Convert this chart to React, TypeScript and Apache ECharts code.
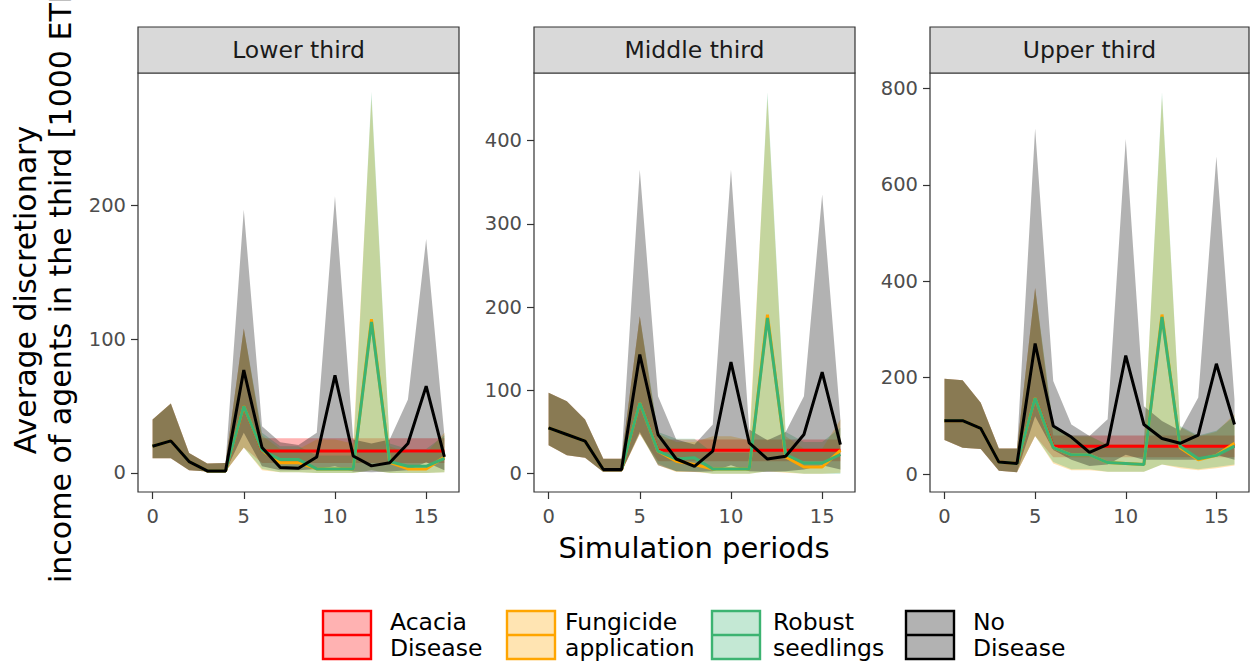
import React, { useEffect, useRef } from "react";
import * as echarts from "echarts";

const periods = [0, 1, 2, 3, 4, 5, 6, 7, 8, 9, 10, 11, 12, 13, 14, 15, 16];
const panelTitles = ["Lower third", "Middle third", "Upper third"];
const scenarioLabels = ["Acacia\nDisease", "Fungicide\napplication", "Robust\nseedlings", "No\nDisease"];
const scenarioColors = ["#FF0000", "#FFA500", "#3CB371", "#000000"];
const ribbonFills = ["rgba(255,0,0,0.3)", "rgba(255,165,0,0.3)", "rgba(60,179,113,0.3)", "rgba(0,0,0,0.3)"];
const xTicks = [0, 5, 10, 15];
const yTicksLower = [0, 100, 200];
const yTicksMiddle = [0, 100, 200, 300, 400];
const yTicksUpper = [0, 200, 400, 600, 800];

// Lower third: mean, lower, upper for each scenario (Acacia, Fungicide, Robust, No Disease)
const lowerAcaciaMean = [20, 24, 8.5, 1.5, 1.5, 50, 16.5, 16.5, 16.5, 16.5, 16.5, 16.5, 16.5, 16.5, 16.5, 16.5, 16.5];
const lowerAcaciaLo = [11, 11, 2, 1, 1, 19, 7.5, 7.5, 7.5, 7.5, 7.5, 7.5, 7.5, 7.5, 7.5, 7.5, 7.5];
const lowerAcaciaHi = [40, 52, 15, 7, 7.5, 108, 26, 26, 26, 26, 26, 26, 26, 26, 26, 26, 26];
const lowerFungMean = [20, 24, 8.5, 1.5, 1.5, 50, 17, 7.7, 7.7, 3, 3, 3, 115, 8, 3, 3, 12];
const lowerFungLo = [11, 11, 2, 1, 1, 19, 2, 0.5, 0.5, 0, 0, 0, 2, 0, 0, 0, 0.5];
const lowerFungHi = [40, 52, 15, 7, 7.5, 108, 28, 18, 18, 25, 25, 22, 280, 20, 15, 15, 30];
const lowerRobMean = [20, 24, 8.5, 1.5, 1.5, 50, 17, 10, 10, 3, 3, 3, 113, 8.5, 5, 5, 11];
const lowerRobLo = [11, 11, 2, 1, 1, 19, 3, 0.5, 0.5, 0, 0, 0, 2, 0, 0, 0, 0.5];
const lowerRobHi = [40, 52, 15, 7, 7.5, 108, 30, 20, 20, 13, 13, 13, 285, 22, 18, 18, 28];
const lowerNoneMean = [20, 24, 8.5, 1.5, 1.5, 77, 19, 4, 3.5, 12, 73, 12.7, 5.3, 7.7, 22, 65, 12];
const lowerNoneLo = [11, 11, 2, 1, 1, 30, 5, 2, 2, 3, 5, 1, 0.5, 1, 2, 8, 2];
const lowerNoneHi = [40, 52, 15, 7, 7.5, 197, 35, 23, 21, 30, 207, 25, 22, 25, 55, 175, 28];

// Middle third
const middleAcaciaMean = [55, 47, 39, 5, 5, 85, 28, 28, 28, 28, 28, 28, 28, 28, 28, 28, 28];
const middleAcaciaLo = [34, 22, 19, 2, 2, 48, 15, 15, 15, 15, 15, 15, 15, 15, 15, 15, 15];
const middleAcaciaHi = [97, 87, 65, 18, 18, 189, 41, 41, 41, 41, 41, 41, 41, 41, 41, 41, 41];
const middleFungMean = [55, 47, 39, 5, 5, 85, 27, 15, 11, 5.6, 5.6, 5.6, 191, 20, 8, 8, 28];
const middleFungLo = [34, 22, 19, 2, 2, 48, 10, 2, 2, 0, 0, 0, 3, 1, 0, 0, 1];
const middleFungHi = [97, 87, 65, 18, 18, 189, 48, 38, 38, 45, 45, 40, 450, 45, 30, 30, 65];
const middleRobMean = [55, 47, 39, 5, 5, 85, 27, 17.6, 19, 5.6, 5.6, 5.6, 187, 23, 12.8, 12.8, 23];
const middleRobLo = [34, 22, 19, 2, 2, 48, 12, 3, 3, 0, 0, 0, 3, 2, 0, 0, 0];
const middleRobHi = [97, 87, 65, 18, 18, 189, 50, 42, 42, 25, 25, 25, 458, 50, 38, 38, 55];
const middleNoneMean = [55, 47, 39, 5, 5, 143, 47, 17.6, 8.8, 27, 134, 37, 17.6, 21, 47, 122, 35];
const middleNoneLo = [34, 22, 19, 2, 2, 50, 10, 3, 2, 3, 10, 3, 2, 3, 5, 10, 5];
const middleNoneHi = [97, 87, 65, 18, 18, 365, 93, 41, 35, 59, 365, 53, 40, 50, 93, 335, 65];

// Upper third
const upperAcaciaMean = [111, 111, 95, 25, 22, 158, 58, 58, 58, 58, 58, 58, 58, 58, 58, 58, 58];
const upperAcaciaLo = [71, 55, 52, 7, 4, 79, 35, 35, 35, 35, 35, 35, 35, 35, 35, 35, 35];
const upperAcaciaHi = [198, 195, 148, 53, 53, 386, 80, 80, 80, 80, 80, 80, 80, 80, 80, 80, 80];
const upperFungMean = [111, 111, 95, 25, 22, 158, 55, 40, 40, 24, 22, 20, 331, 55, 30, 39, 64];
const upperFungLo = [71, 55, 52, 7, 4, 79, 22, 8, 8, 5, 5, 5, 20, 12, 8, 12, 18];
const upperFungHi = [198, 195, 148, 53, 53, 386, 98, 78, 78, 62, 62, 62, 780, 98, 78, 88, 125];
const upperRobMean = [111, 111, 95, 25, 22, 158, 55, 40, 40, 24, 22, 20, 326, 58, 32, 39, 58];
const upperRobLo = [71, 55, 52, 7, 4, 79, 25, 10, 10, 5, 5, 5, 20, 15, 10, 15, 20];
const upperRobHi = [198, 195, 148, 53, 53, 386, 100, 80, 80, 60, 60, 60, 792, 100, 80, 90, 120];
const upperNoneMean = [111, 111, 95, 25, 22, 271, 100, 77, 45, 62, 246, 103, 74, 64, 81, 229, 103];
const upperNoneLo = [71, 55, 52, 7, 4, 120, 50, 30, 17, 20, 40, 30, 30, 30, 30, 40, 30];
const upperNoneHi = [198, 195, 148, 53, 53, 717, 193, 103, 79, 114, 695, 141, 110, 90, 159, 659, 155];

const FONT = "DejaVu Sans";

const panels = [
  {
    left: 138, width: 321, yMin: -14.25, yMax: 299.25, yTicks: yTicksLower,
    means: [lowerAcaciaMean, lowerFungMean, lowerRobMean, lowerNoneMean],
    los: [lowerAcaciaLo, lowerFungLo, lowerRobLo, lowerNoneLo],
    his: [lowerAcaciaHi, lowerFungHi, lowerRobHi, lowerNoneHi],
  },
  {
    left: 534, width: 321, yMin: -22, yMax: 481, yTicks: yTicksMiddle,
    means: [middleAcaciaMean, middleFungMean, middleRobMean, middleNoneMean],
    los: [middleAcaciaLo, middleFungLo, middleRobLo, middleNoneLo],
    his: [middleAcaciaHi, middleFungHi, middleRobHi, middleNoneHi],
  },
  {
    left: 930, width: 319, yMin: -37, yMax: 832, yTicks: yTicksUpper,
    means: [upperAcaciaMean, upperFungMean, upperRobMean, upperNoneMean],
    los: [upperAcaciaLo, upperFungLo, upperRobLo, upperNoneLo],
    his: [upperAcaciaHi, upperFungHi, upperRobHi, upperNoneHi],
  },
];

const PLOT_TOP = 73;
const PLOT_BOTTOM = 492;
const STRIP_TOP = 27;

function ribbonSeries(idx: number, lo: number[], hi: number[], fill: string) {
  return {
    type: "custom",
    xAxisIndex: idx,
    yAxisIndex: idx,
    silent: true,
    data: periods.map((p, i) => [p, lo[i], hi[i]]),
    encode: { x: 0, y: [1, 2] },
    renderItem: (params: any, api: any) => {
      if (params.dataIndex !== 0) return null;
      const top = periods.map((p, i) => api.coord([p, hi[i]]));
      const bot = periods.map((p, i) => api.coord([p, lo[i]])).reverse();
      return {
        type: "polygon",
        shape: { points: top.concat(bot) },
        style: { fill, stroke: "none" },
      };
    },
  };
}

export default function App() {
  const ref = useRef<HTMLDivElement>(null);
  useEffect(() => {
    if (!ref.current) return;
    const chart = echarts.init(ref.current, undefined, { renderer: "svg" });
    const grids: any[] = [];
    const xAxes: any[] = [];
    const yAxes: any[] = [];
    const series: any[] = [];
    const graphics: any[] = [];

    panels.forEach((pn, gi) => {
      grids.push({
        left: pn.left, top: PLOT_TOP, width: pn.width, height: PLOT_BOTTOM - PLOT_TOP,
        show: true, borderColor: "#333333", borderWidth: 1.2, backgroundColor: "transparent",
      });
      xAxes.push({
        type: "value", gridIndex: gi, min: -0.8, max: 16.8, position: "bottom",
        axisLine: { show: false, onZero: false },
        splitLine: { show: false },
        axisTick: { show: true, length: 7, lineStyle: { color: "#333333", width: 1.2 }, customValues: xTicks },
        axisLabel: { customValues: xTicks, color: "#4D4D4D", fontSize: 19.5, fontFamily: FONT, margin: 14 },
      });
      yAxes.push({
        type: "value", gridIndex: gi, min: pn.yMin, max: pn.yMax, position: "left",
        axisLine: { show: false, onZero: false },
        splitLine: { show: false },
        axisTick: { show: true, length: 7, lineStyle: { color: "#333333", width: 1.2 }, customValues: pn.yTicks },
        axisLabel: { customValues: pn.yTicks, color: "#4D4D4D", fontSize: 19.5, fontFamily: FONT, margin: 12 },
      });
      for (let s = 0; s < 4; s++) {
        series.push(ribbonSeries(gi, pn.los[s], pn.his[s], ribbonFills[s]));
      }
      for (let s = 0; s < 4; s++) {
        series.push({
          type: "line",
          xAxisIndex: gi,
          yAxisIndex: gi,
          silent: true,
          symbol: "none",
          showSymbol: false,
          data: periods.map((p, i) => [p, pn.means[s][i]]),
          lineStyle: { color: scenarioColors[s], width: 3 },
          z: 3,
        });
      }
      graphics.push({
        type: "rect",
        shape: { x: pn.left, y: STRIP_TOP, width: pn.width, height: PLOT_TOP - STRIP_TOP },
        style: { fill: "#D9D9D9", stroke: "#333333", lineWidth: 1.2 },
      });
      graphics.push({
        type: "text",
        x: pn.left + pn.width / 2,
        y: (STRIP_TOP + PLOT_TOP) / 2,
        style: {
          text: panelTitles[gi], fill: "#1A1A1A", fontSize: 23.5, fontFamily: FONT,
          align: "center", verticalAlign: "middle",
        },
      });
    });

    // Axis titles
    graphics.push({
      type: "text",
      x: 694,
      y: 548,
      style: { text: "Simulation periods", fill: "#000000", fontSize: 29, fontFamily: FONT, align: "center", verticalAlign: "middle" },
    });
    graphics.push({
      type: "text",
      x: 25,
      y: 290,
      rotation: Math.PI / 2,
      style: { text: "Average discretionary", fill: "#000000", fontSize: 30, fontFamily: FONT, align: "center", verticalAlign: "middle" },
    });
    graphics.push({
      type: "text",
      x: 60,
      y: 583,
      rotation: Math.PI / 2,
      style: { text: "income of agents in the third [1000 ETB]", fill: "#000000", fontSize: 30, fontFamily: FONT, align: "left", verticalAlign: "middle" },
    });

    // Legend
    const keyX = [323, 507, 712, 906];
    const textX = [390, 565, 773, 973];
    const keyY = 611;
    const keyW = 48;
    const keyH = 48;
    scenarioLabels.forEach((lab, i) => {
      graphics.push({
        type: "rect",
        shape: { x: keyX[i], y: keyY, width: keyW, height: keyH },
        style: { fill: ribbonFills[i], stroke: scenarioColors[i], lineWidth: 2.4 },
      });
      graphics.push({
        type: "line",
        shape: { x1: keyX[i] + 1, y1: keyY + keyH / 2, x2: keyX[i] + keyW - 1, y2: keyY + keyH / 2 },
        style: { stroke: scenarioColors[i], lineWidth: 2.6 },
      });
      graphics.push({
        type: "text",
        x: textX[i],
        y: keyY + keyH / 2,
        style: {
          text: lab, fill: "#000000", fontSize: 23.5, fontFamily: FONT, lineHeight: 26,
          align: "left", verticalAlign: "middle",
        },
      });
    });

    chart.setOption({
      animation: false,
      backgroundColor: "#FFFFFF",
      grid: grids,
      xAxis: xAxes,
      yAxis: yAxes,
      series,
      graphic: graphics,
    });
    return () => chart.dispose();
  }, []);
  return (
    <div
      ref={ref}
      style={{ position: "fixed", left: 0, top: 0, width: 1250, height: 661, background: "#fff" }}
    />
  );
}
